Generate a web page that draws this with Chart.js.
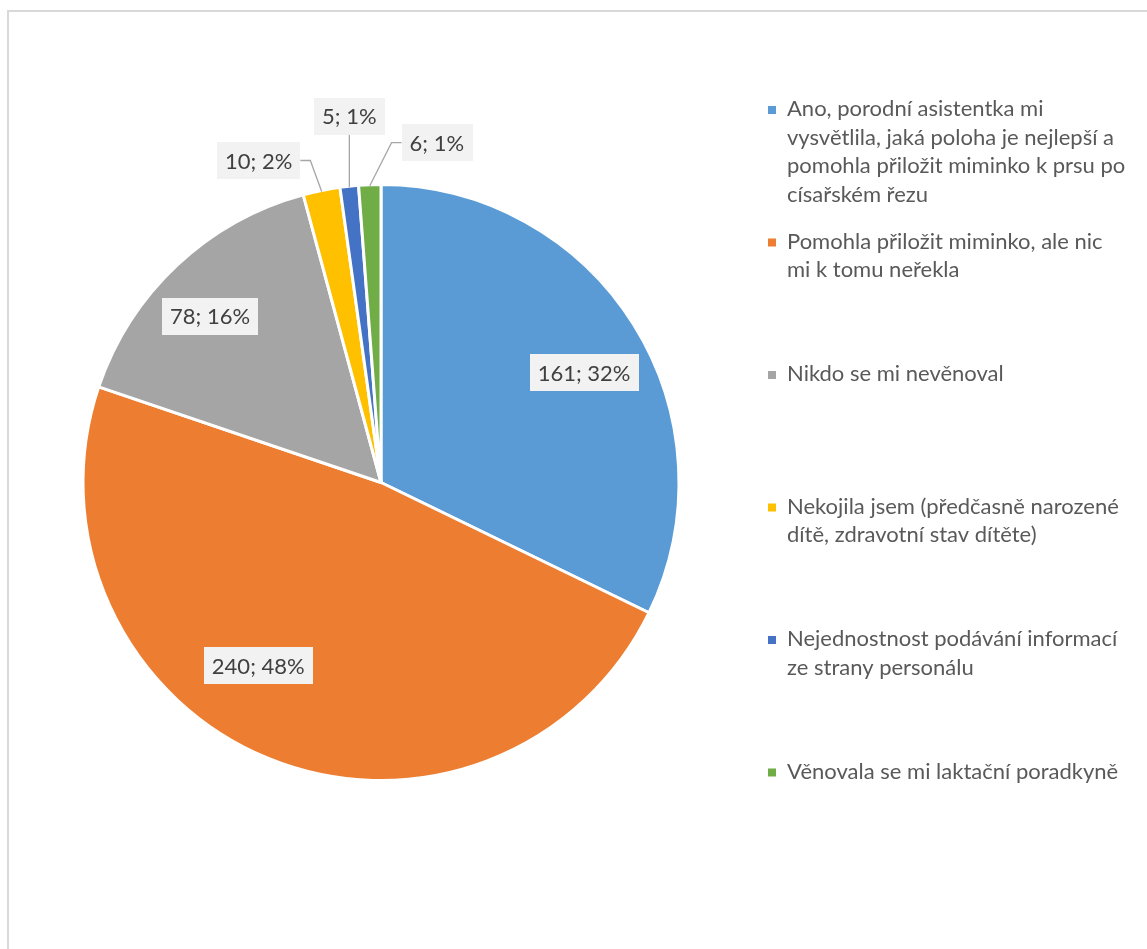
<!DOCTYPE html>
<html>
<head>
<meta charset="utf-8">
<script src="https://cdn.jsdelivr.net/npm/chart.js@4/dist/chart.umd.min.js"></script>
<style>
  html, body { margin: 0; padding: 0; background: #ffffff; overflow: hidden; }
  #wrap { position: relative; width: 1147px; height: 949px; }
  #frame { position: absolute; left: 7px; top: 10px; width: 1200px; height: 1000px;
           border: 2px solid #d9d9d9; box-sizing: border-box; }
  canvas { position: absolute; left: 0; top: 0; }
</style>
</head>
<body>
<div id="wrap">
  <div id="frame"></div>
  <canvas id="chart" width="1147" height="949"></canvas>
</div>
<script>
// Survey answers (legend text, pre-wrapped into lines)
const categories = [
  ["Ano, porodní asistentka mi", "vysvětlila, jaká poloha je nejlepší a", "pomohla přiložit miminko k prsu po", "císařském řezu"],
  ["Pomohla přiložit miminko, ale nic", "mi k tomu neřekla"],
  ["Nikdo se mi nevěnoval"],
  ["Nekojila jsem (předčasně narozené", "dítě, zdravotní stav dítěte)"],
  ["Nejednostnost podávání informací", "ze strany personálu"],
  ["Věnovala se mi laktační poradkyně"]
];
const counts = [161, 240, 78, 10, 5, 6];
const sliceColors = ["#5B9BD5", "#ED7D31", "#A5A5A5", "#FFC000", "#4472C4", "#70AD47"];

// Placement of the "count; percent" labels.
// inside: radial fraction + angular shift (deg) from the slice middle
// outside: pixel offset of the box centre from the slice's outer edge point
const labelPlacement = [
  { mode: "inside", r: 0.775, da: 3.6 },
  { mode: "inside", r: 0.74, da: 11.5 },
  { mode: "inside", r: 0.80, da: -2.6 },
  { mode: "outside", dx: -63, dy: -31, side: "left" },
  { mode: "outside", dx: 0, dy: -71, side: "below" },
  { mode: "outside", dx: 67, dy: -43, side: "right" }
];

const LABEL_FONT = "22px Lato";
const LEGEND_FONT = "22px Lato";

const dataLabelPlugin = {
  id: "sliceLabels",
  afterDatasetsDraw(chart) {
    const ctx = chart.ctx;
    const meta = chart.getDatasetMeta(0);
    const values = chart.data.datasets[0].data;
    const total = values.reduce((a, b) => a + b, 0);
    ctx.save();
    ctx.font = LABEL_FONT;
    ctx.textBaseline = "middle";
    ctx.textAlign = "center";
    meta.data.forEach((arc, i) => {
      const p = arc.getProps(["x", "y", "startAngle", "endAngle", "outerRadius"], true);
      const mid = (p.startAngle + p.endAngle) / 2;
      const text = values[i] + "; " + Math.round(values[i] / total * 100) + "%";
      const tw = ctx.measureText(text).width;
      const bw = tw + 16, bh = 37;
      const place = labelPlacement[i];
      let cx, cy;
      if (place.mode === "inside") {
        const a = mid + place.da * Math.PI / 180;
        cx = p.x + Math.cos(a) * p.outerRadius * place.r;
        cy = p.y + Math.sin(a) * p.outerRadius * place.r;
      } else {
        const ex = p.x + Math.cos(mid) * (p.outerRadius - 1);
        const ey = p.y + Math.sin(mid) * (p.outerRadius - 1);
        cx = ex + place.dx;
        cy = ey + place.dy;
        // leader line
        ctx.strokeStyle = "#A6A6A6";
        ctx.lineWidth = 1.3;
        ctx.beginPath();
        ctx.moveTo(ex, ey);
        if (place.side === "left") {
          const edge = cx + bw / 2;
          ctx.lineTo(edge + 10, cy);
          ctx.lineTo(edge, cy);
        } else if (place.side === "right") {
          const edge = cx - bw / 2;
          ctx.lineTo(edge - 10, cy);
          ctx.lineTo(edge, cy);
        } else {
          ctx.lineTo(ex, cy + bh / 2);
        }
        ctx.stroke();
      }
      ctx.fillStyle = "#F2F2F2";
      ctx.fillRect(Math.round(cx - bw / 2), Math.round(cy - bh / 2), Math.round(bw), bh);
      ctx.fillStyle = "#404040";
      ctx.fillText(text, cx, cy + 1);
    });
    ctx.restore();
  }
};

const sideLegendPlugin = {
  id: "sideLegend",
  afterDraw(chart) {
    const ctx = chart.ctx;
    const labels = chart.data.labels;
    const colors = chart.data.datasets[0].backgroundColor;
    const x0 = 768, textX = 787, firstY = 109, step = 132.5, lineH = 28.5;
    ctx.save();
    ctx.font = LEGEND_FONT;
    ctx.textBaseline = "middle";
    ctx.textAlign = "left";
    labels.forEach((lines, i) => {
      const y = firstY + i * step;
      ctx.fillStyle = colors[i];
      ctx.fillRect(x0, y - 3, 8, 8);
      ctx.fillStyle = "#595959";
      lines.forEach((ln, k) => ctx.fillText(ln, textX, y + k * lineH));
    });
    ctx.restore();
  }
};

new Chart(document.getElementById("chart"), {
  type: "pie",
  data: {
    labels: categories,
    datasets: [{
      data: counts,
      backgroundColor: sliceColors,
      borderColor: "#ffffff",
      borderWidth: 3
    }]
  },
  options: {
    responsive: false,
    devicePixelRatio: 1,
    animation: false,
    layout: { padding: { left: 81.5, right: 466.5, top: 183, bottom: 167 } },
    plugins: {
      legend: { display: false },
      tooltip: { enabled: false },
      title: { display: false }
    }
  },
  plugins: [dataLabelPlugin, sideLegendPlugin]
});
</script>
</body>
</html>
